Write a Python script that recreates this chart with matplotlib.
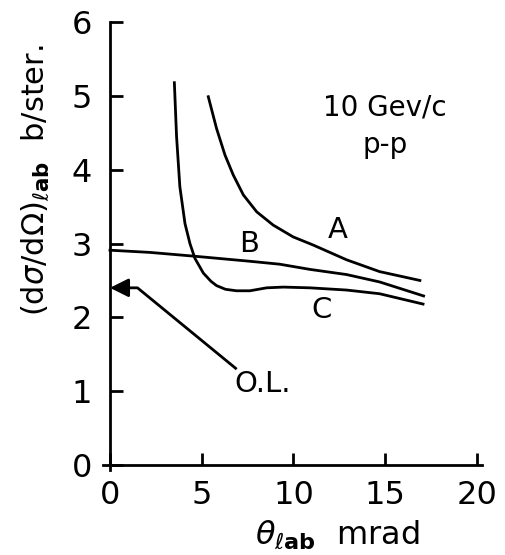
import numpy as np
import matplotlib
matplotlib.use('Agg')
import matplotlib.pyplot as plt

plt.rcParams['font.family'] = ['DejaVu Sans']
plt.rcParams['mathtext.fontset'] = 'dejavusans'

# Curve A
a_x = [5.36, 5.81, 6.27, 6.72, 7.27, 8.0, 8.9, 9.99, 11.08, 12.9, 14.7, 16.9]
a_y = [4.99, 4.56, 4.20, 3.93, 3.66, 3.43, 3.25, 3.09, 2.98, 2.78, 2.62, 2.50]

# Curve B
b_x = [0.0, 2.18, 4.54, 7.63, 9.26, 10.9, 12.9, 14.7, 17.1]
b_y = [2.91, 2.88, 2.83, 2.76, 2.72, 2.65, 2.58, 2.48, 2.29]

# Curve C
c_x = [3.51, 3.63, 3.81, 4.09, 4.36, 4.63, 5.09, 5.5, 5.81, 6.3, 6.9, 7.63, 8.54, 9.45, 10.9, 12.9, 14.7, 17.07]
c_y = [5.18, 4.45, 3.77, 3.27, 3.00, 2.80, 2.60, 2.49, 2.43, 2.38, 2.36, 2.36, 2.40, 2.41, 2.40, 2.37, 2.32, 2.18]

# O.L. marker
ol_y = 2.40
ol_corner = 1.5
ol_end = (6.85, 1.31)

xticks = [0, 5, 10, 15, 20]
yticks = [0, 1, 2, 3, 4, 5, 6]

fig = plt.figure(figsize=(5.05, 5.55), dpi=100)
ax = fig.add_axes([0.204, 0.153, 0.751, 0.807])

lw = 2.0
ax.plot(a_x, a_y, color='black', lw=lw)
ax.plot(b_x, b_y, color='black', lw=lw)
ax.plot(c_x, c_y, color='black', lw=lw)

# O.L. pointer
ax.plot([ol_end[0], ol_corner, 0.7], [ol_end[1], ol_y, ol_y], color='black', lw=lw)
ax.annotate('', xy=(0, ol_y), xytext=(1.0, ol_y),
            arrowprops=dict(arrowstyle='-|>', color='black', lw=lw,
                            mutation_scale=28, shrinkA=0, shrinkB=0))

ax.text(12.4, 3.18, 'A', fontsize=21, ha='center', va='center')
ax.text(7.6, 3.0, 'B', fontsize=21, ha='center', va='center')
ax.text(11.55, 2.1, 'C', fontsize=21, ha='center', va='center')
ax.text(8.3, 1.1, 'O.L.', fontsize=21, ha='center', va='center')
ax.text(15.0, 4.85, '10 Gev/c', fontsize=20, ha='center', va='center')
ax.text(15.0, 4.33, 'p-p', fontsize=20, ha='center', va='center')

ax.set_xlim(-0.38, 20.3)
ax.set_ylim(-0.07, 6.0)
ax.spines['left'].set_position(('data', 0))
ax.spines['bottom'].set_position(('data', 0))
ax.spines['top'].set_visible(False)
ax.spines['right'].set_visible(False)
for s in ['left', 'bottom']:
    ax.spines[s].set_linewidth(2.0)
ax.spines['left'].set_bounds(-0.07, 6.0)
ax.spines['bottom'].set_bounds(-0.38, 20.3)

ax.set_xticks(xticks)
ax.set_yticks(yticks)
ax.tick_params(axis='both', direction='in', length=9, width=2.0, labelsize=23)
ax.tick_params(axis='x', pad=11)
ax.tick_params(axis='y', pad=13)

ax.text(0.617, -0.145, r'$\theta_{\ell\mathbf{ab}}$  mrad', transform=ax.transAxes,
        fontsize=23, ha='center', va='center')
fig.text(0.069, 0.675, r'(d$\sigma$/d$\Omega$)$_{\ell\mathbf{ab}}$  b/ster.',
         rotation=90, fontsize=22, ha='center', va='center')

fig.savefig('out.png', dpi=100)
